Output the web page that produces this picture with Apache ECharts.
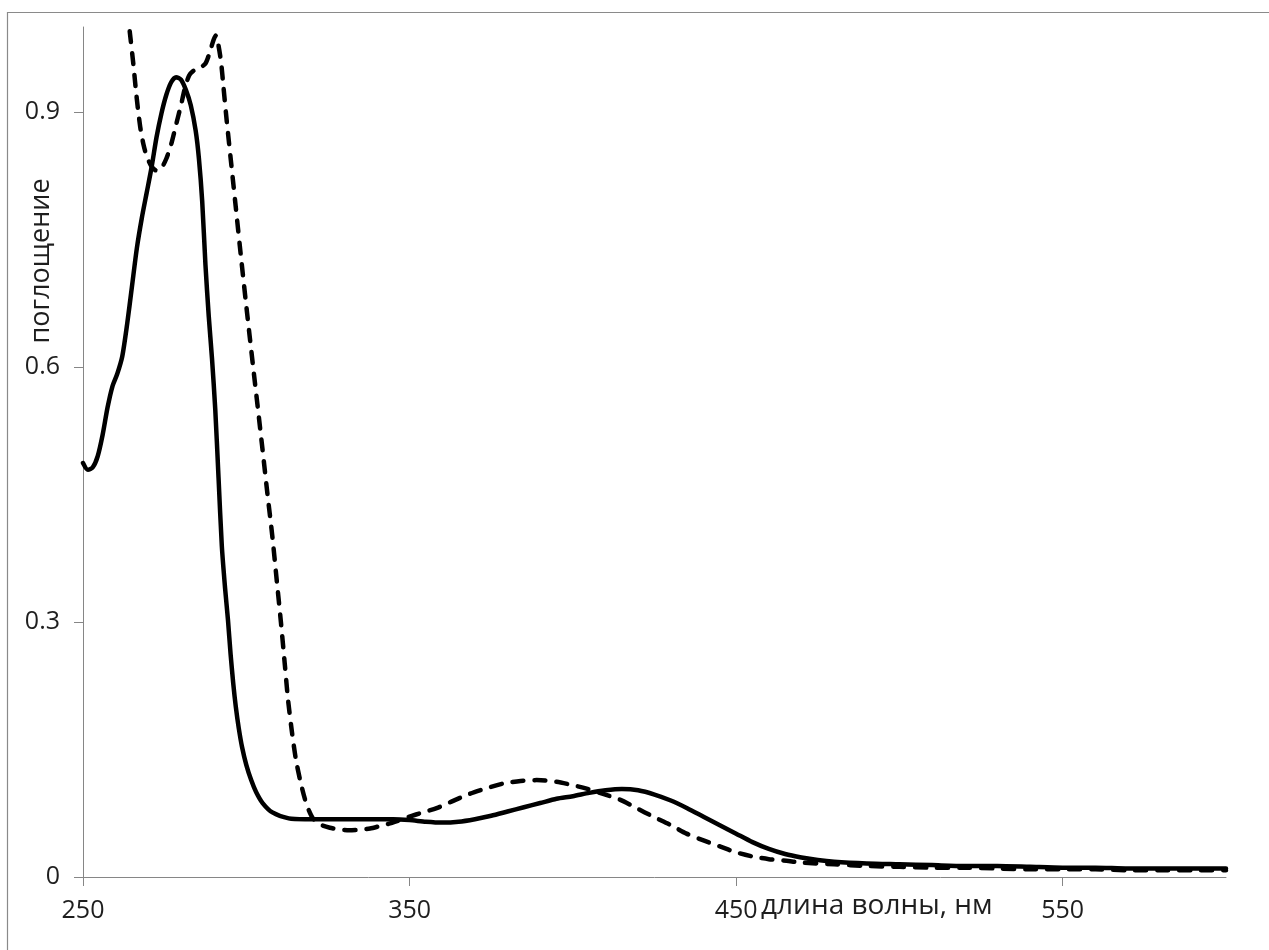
<!DOCTYPE html>
<html>
<head>
<meta charset="utf-8">
<script src="https://cdn.jsdelivr.net/npm/echarts@6/dist/echarts.min.js"></script>
<style>
  html, body { margin: 0; padding: 0; background: #fff; }
  #chart { width: 1269px; height: 950px; }
</style>
</head>
<body>
<div id="chart"></div>
<script>
// ---- data ----
const xTickValues = [250, 350, 450, 550];
const yTickValues = [0, 0.3, 0.6, 0.9];
const xAxisTitle = 'длина волны, нм';
const yAxisTitle = 'поглощение';

// solid curve: wavelength (nm), absorbance
const solidWavelength = [250, 251.5, 253, 254.5, 256, 257.5, 259, 260.5, 262, 263.5, 265, 266.5, 268, 269.5, 271, 272.5, 274, 275.5, 277, 278.5, 280, 281.5, 283, 284.5, 285.5, 286.5, 287.5, 288.5, 289.5, 290.5, 291.5, 292.5, 293.5, 294.4, 295.2, 296, 296.8, 297.7, 298.7, 300, 301.5, 303, 305, 308, 313, 318, 325, 335, 345, 350, 355, 360, 365, 370, 375, 380, 385, 390, 395, 400, 405, 410, 415, 420, 425, 430, 435, 440, 445, 450, 455, 460, 465, 470, 475, 480, 490, 500, 510, 520, 530, 540, 550, 560, 570, 580, 590, 600];
const solidAbsorbance = [0.487, 0.479, 0.482, 0.495, 0.52, 0.552, 0.577, 0.592, 0.612, 0.65, 0.695, 0.74, 0.775, 0.805, 0.835, 0.87, 0.898, 0.92, 0.935, 0.941, 0.938, 0.926, 0.908, 0.878, 0.845, 0.795, 0.72, 0.66, 0.61, 0.55, 0.47, 0.39, 0.34, 0.302, 0.262, 0.228, 0.2, 0.175, 0.153, 0.132, 0.114, 0.1, 0.087, 0.076, 0.069, 0.068, 0.068, 0.068, 0.068, 0.067, 0.065, 0.064, 0.065, 0.068, 0.072, 0.077, 0.082, 0.087, 0.092, 0.095, 0.099, 0.102, 0.1035, 0.102, 0.097, 0.09, 0.081, 0.071, 0.061, 0.051, 0.041, 0.033, 0.027, 0.023, 0.02, 0.018, 0.016, 0.015, 0.014, 0.013, 0.013, 0.012, 0.011, 0.011, 0.010, 0.010, 0.010, 0.010];

// dashed curve: wavelength (nm), absorbance
const dashedWavelength = [264.3, 265.4, 266.4, 267.5, 268.5, 269.5, 271, 272.5, 274, 275.5, 277, 278.5, 280, 281.2, 282.5, 284, 285.8, 287.5, 288.8, 290, 290.7, 291.5, 292.3, 293, 294, 295.5, 297, 298.5, 300.2, 302.1, 303.5, 305, 306.5, 308, 309.3, 310.6, 311.8, 312.8, 314, 315.2, 316.6, 318, 319.2, 320.4, 322.5, 325.6, 328.5, 331.5, 334.5, 337.9, 341, 344, 347, 350, 354, 358.3, 363, 368.5, 374, 378.7, 384, 388.9, 395, 400, 404.2, 409, 414.4, 419.5, 424.6, 430, 434.8, 440, 445, 450, 455.2, 460, 465.4, 470, 480, 490, 500, 510, 520, 530, 540, 550, 560, 570, 580, 590, 600];
const dashedAbsorbance = [0.995, 0.957, 0.918, 0.883, 0.862, 0.848, 0.836, 0.831, 0.834, 0.845, 0.862, 0.885, 0.908, 0.928, 0.943, 0.949, 0.952, 0.957, 0.97, 0.985, 0.99, 0.978, 0.958, 0.93, 0.89, 0.835, 0.78, 0.725, 0.665, 0.6, 0.553, 0.502, 0.45, 0.4, 0.35, 0.3, 0.25, 0.208, 0.17, 0.138, 0.112, 0.091, 0.078, 0.069, 0.062, 0.058, 0.056, 0.055, 0.0555, 0.057, 0.06, 0.063, 0.067, 0.071, 0.076, 0.081, 0.089, 0.098, 0.105, 0.110, 0.113, 0.114, 0.112, 0.108, 0.104, 0.098, 0.091, 0.081, 0.071, 0.061, 0.051, 0.043, 0.036, 0.029, 0.024, 0.021, 0.019, 0.017, 0.015, 0.013, 0.012, 0.011, 0.011, 0.010, 0.009, 0.009, 0.009, 0.008, 0.008, 0.008, 0.008];

// ---- build ----
const solidData = solidWavelength.map((x, i) => [x, solidAbsorbance[i]]);
const dashedData = dashedWavelength.map((x, i) => [x, dashedAbsorbance[i]]);

const axisColor = '#868686';
const textColor = '#1e1e1e';
const fontFamily = '"Open Sans", "DejaVu Sans", sans-serif';

const chart = echarts.init(document.getElementById('chart'), null, { renderer: 'canvas' });
chart.setOption({
  animation: false,
  backgroundColor: '#ffffff',
  grid: { left: 83, right: 43, top: 27, bottom: 73, containLabel: false },
  xAxis: {
    type: 'value',
    min: 250,
    max: 600,
    interval: 100,
    axisLine: { show: true, lineStyle: { color: axisColor, width: 1 } },
    axisTick: { show: true, length: 9, lineStyle: { color: axisColor }, customValues: xTickValues },
    axisLabel: { color: textColor, fontSize: 25, fontFamily: fontFamily, margin: 21, customValues: xTickValues },
    splitLine: { show: false }
  },
  yAxis: {
    type: 'value',
    min: 0,
    max: 1,
    interval: 0.3,
    axisLine: { show: true, lineStyle: { color: axisColor, width: 1 } },
    axisTick: { show: true, length: 9, lineStyle: { color: axisColor }, customValues: yTickValues },
    axisLabel: { color: textColor, fontSize: 25, fontFamily: fontFamily, margin: 23, customValues: yTickValues,
      formatter: v => (v === 0 ? '0' : String(Math.round(v * 10) / 10)) },
    splitLine: { show: false }
  },
  graphic: [
    {
      type: 'rect', silent: true, z: -1,
      shape: { x: 7.5, y: 12.5, width: 1400, height: 1100 },
      style: { fill: 'none', stroke: '#8a8a8a', lineWidth: 1.2 }
    },
    {
      type: 'text', silent: true,
      x: 761, y: 906,
      style: { text: xAxisTitle, fill: textColor, fontSize: 28, fontFamily: fontFamily, textAlign: 'left', textVerticalAlign: 'middle' }
    },
    {
      type: 'text', silent: true,
      x: 41, y: 261, rotation: Math.PI / 2,
      style: { text: yAxisTitle, fill: textColor, fontSize: 27, fontFamily: fontFamily, textAlign: 'center', textVerticalAlign: 'middle' }
    }
  ],
  series: [
    {
      name: 'solid', type: 'line', data: solidData, showSymbol: false, smooth: 0.25,
      lineStyle: { color: '#000', width: 4.5, type: 'solid', cap: 'round', join: 'round' },
      z: 3
    },
    {
      name: 'dashed', type: 'line', data: dashedData, showSymbol: false, smooth: 0.25,
      lineStyle: { color: '#000', width: 4.5, type: [11, 11], cap: 'round', join: 'round' },
      z: 4
    }
  ]
});
</script>
</body>
</html>
